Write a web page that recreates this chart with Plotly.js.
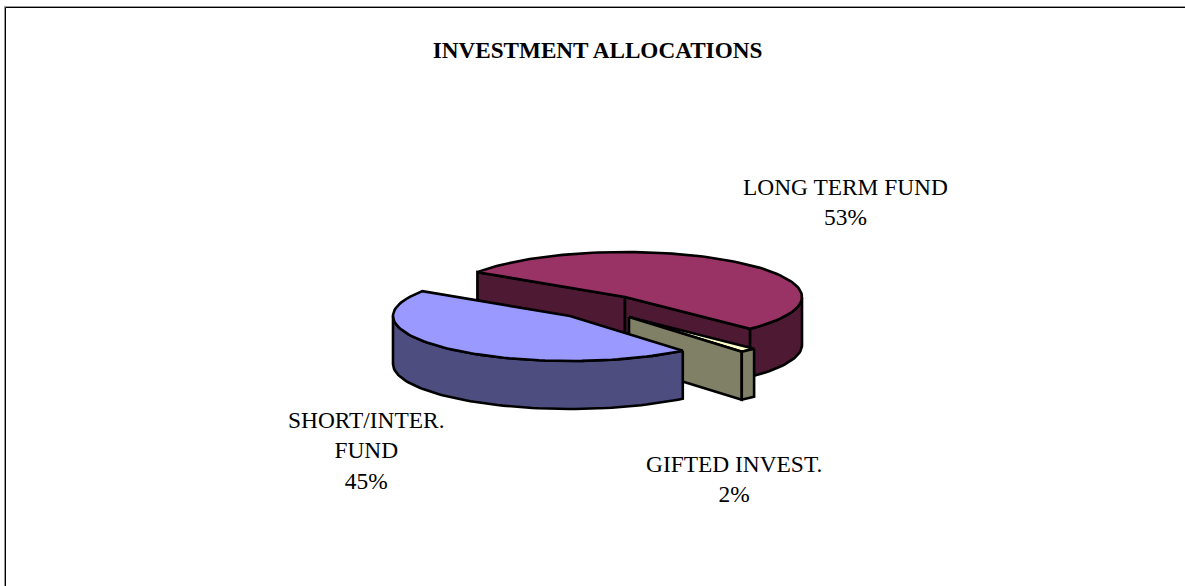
<!DOCTYPE html>
<html>
<head>
<meta charset="utf-8">
<script src="https://cdn.plot.ly/plotly-3.0.1.min.js"></script>
<style>html,body{margin:0;padding:0;background:#fff}</style>
</head>
<body>
<div id="chart" style="width:1185px;height:586px"></div>
<script>
// Data, in drawing order clockwise from the start angle
var categories = ['LONG TERM FUND', 'GIFTED INVEST.', 'SHORT/INTER.<br>FUND'];
var values = [53.2, 1.5, 45.3];
var topColors = ['#993366', '#FFFFCC', '#9999FF'];
var sideColors = ['#4D1933', '#808066', '#4D4D80'];
var explodeX = [625, 629, 570];
var explodeY = [297, 317, 316];
var labelX = [845, 733.5, 365.5];
var labelY = [202, 479, 450.5];

var startAngle = 303.5, radX = 177, radY = 45, depth = 48;
function px(c, t) { return c + radX * Math.sin(t * Math.PI / 180); }
function py(c, t) { return c - radY * Math.cos(t * Math.PI / 180); }
function arc(i, a, b, dy) {
  var xs = [], ys = [], n = Math.max(2, Math.ceil(Math.abs(b - a) / 2));
  for (var k = 0; k <= n; k++) {
    var t = a + (b - a) * k / n;
    xs.push(px(explodeX[i], t)); ys.push(py(explodeY[i], t) + dy);
  }
  return {x: xs, y: ys};
}
function poly(xs, ys, color, name) {
  return {type: 'scatter', mode: 'lines', x: xs.concat([xs[0]]), y: ys.concat([ys[0]]),
    fill: 'toself', fillcolor: color, line: {color: '#000', width: 2.6, shape: 'linear'},
    name: name, hoverinfo: 'skip', showlegend: false};
}
function cutFace(i, t, color) {
  var cx = explodeX[i], cy = explodeY[i];
  return poly([cx, px(cx, t), px(cx, t), cx], [cy, py(cy, t), py(cy, t) + depth, cy + depth], color, categories[i] + ' side');
}
function rim(i, a, b) {
  var lo = Math.max(a, 90), hi = Math.min(b, 270);
  var up = arc(i, lo, hi, 0), dn = arc(i, hi, lo, depth);
  return poly(up.x.concat(dn.x), up.y.concat(dn.y), sideColors[i], categories[i] + ' rim');
}
function topFace(i, a, b) {
  var r = arc(i, a, b, 0);
  return poly([explodeX[i]].concat(r.x), [explodeY[i]].concat(r.y), topColors[i], categories[i]);
}

var total = values.reduce(function (s, v) { return s + v; }, 0);
var traces = [], angle = startAngle;
values.forEach(function (v, i) {
  var a = angle, b = a + v / total * 360;
  angle = b;
  if (i === 0) {
    traces.push(cutFace(i, a, sideColors[i]));
    traces.push(cutFace(i, b - 360, sideColors[i]));
    traces.push(rim(i, 90, b - 360));
    traces.push(topFace(i, a, b));
  } else {
    var s = a % 360, e = s + (b - a);
    if (i === 1) {
      traces.push(topFace(i, s, e));
      traces.push(cutFace(i, e, sideColors[i]));
      traces.push(rim(i, s, e));
    } else {
      traces.push(rim(i, s, e));
      traces.push(topFace(i, s, e));
    }
  }
});

var annotations = categories.map(function (c, i) {
  return {x: labelX[i], y: labelY[i], xref: 'x', yref: 'y', showarrow: false, align: 'center',
    text: c + '<br>' + Math.round(values[i]) + '%',
    font: {family: '"Liberation Serif", serif', size: 23.4, color: '#000'}};
});

var layout = {
  width: 1185, height: 586, margin: {l: 0, r: 0, t: 0, b: 0},
  paper_bgcolor: '#fff', plot_bgcolor: '#fff', showlegend: false,
  title: {text: '<b>INVESTMENT ALLOCATIONS</b>', x: 597.5 / 1185, xanchor: 'center', y: 1 - 50 / 586, yanchor: 'middle',
    font: {family: '"Liberation Serif", serif', size: 23.2, color: '#000'}},
  xaxis: {range: [0, 1185], visible: false, fixedrange: true},
  yaxis: {range: [586, 0], visible: false, fixedrange: true},
  annotations: annotations,
  shapes: [
    {type: 'path', xref: 'x', yref: 'y', path: 'M4.5,586 L4.5,6.5 L1185,6.5', line: {color: '#999', width: 1}},
    {type: 'path', xref: 'x', yref: 'y', path: 'M5.5,586 L5.5,7.5 L1185,7.5', line: {color: '#000', width: 1}}
  ]
};
Plotly.newPlot('chart', traces, layout, {displayModeBar: false, staticPlot: true});
</script>
</body>
</html>
